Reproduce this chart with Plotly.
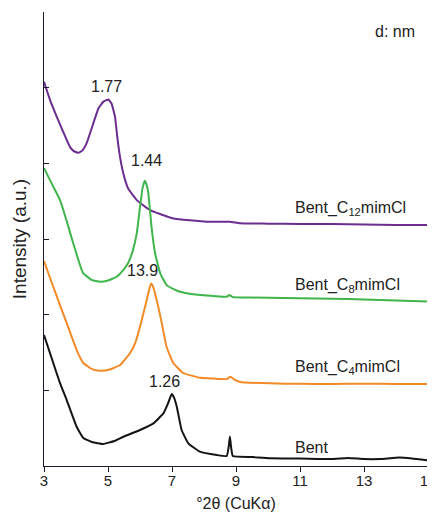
import plotly.graph_objects as go

# 2theta positions and intensities (a.u., offset traces)
x_c12 = [3.0, 3.19, 3.4, 3.6, 3.81, 3.92, 4.07, 4.2, 4.33, 4.54, 4.7, 4.85, 5.01, 5.11, 5.22, 5.29,
         5.375, 5.48, 5.63, 5.9, 6.31, 7.04, 8.08, 8.8, 9.125, 10, 11, 12, 13, 14, 15]
y_c12 = [5.077, 4.835, 4.614, 4.416, 4.218, 4.165, 4.139, 4.170, 4.263, 4.527, 4.725, 4.812, 4.844,
         4.791, 4.614, 4.350, 4.086, 3.867, 3.668, 3.514, 3.382, 3.272, 3.227, 3.228, 3.208, 3.203,
         3.197, 3.197, 3.190, 3.184, 3.184]

x_c8 = [3.0, 3.25, 3.5, 3.7, 3.91, 4.22, 4.5, 4.75, 5.0, 5.27, 5.5, 5.63, 5.78, 5.9, 6.0, 6.08, 6.15,
        6.2, 6.26, 6.36, 6.47, 6.63, 6.83, 7.05, 7.25, 7.5, 7.88, 8.3, 8.71, 8.8, 8.9, 9.5, 10.5, 11.5,
        12.5, 13.5, 14.5, 15]
y_c8 = [3.937, 3.725, 3.514, 3.250, 2.946, 2.550, 2.457, 2.435, 2.451, 2.501, 2.602, 2.682, 2.853,
        3.078, 3.421, 3.672, 3.771, 3.725, 3.606, 3.161, 2.814, 2.550, 2.391, 2.338, 2.302, 2.279,
        2.259, 2.246, 2.236, 2.259, 2.232, 2.226, 2.219, 2.213, 2.206, 2.193, 2.180, 2.173]

x_c4 = [3.0, 3.29, 3.5, 3.71, 4.02, 4.23, 4.5, 4.75, 5.0, 5.38, 5.69, 5.85, 6.0, 6.21, 6.34, 6.4,
        6.47, 6.58, 6.68, 6.83, 7.04, 7.35, 7.88, 8.3, 8.71, 8.83, 8.95, 9.13, 10.06, 11, 12, 13, 14, 15]
y_c4 = [2.708, 2.369, 2.127, 1.889, 1.532, 1.361, 1.281, 1.259, 1.268, 1.334, 1.493, 1.625, 1.840,
        2.193, 2.411, 2.378, 2.281, 2.087, 1.889, 1.576, 1.361, 1.229, 1.166, 1.156, 1.149, 1.180,
        1.140, 1.110, 1.092, 1.086, 1.084, 1.088, 1.084, 1.083]

x_bent = [3.0, 3.29, 3.5, 3.71, 4.02, 4.23, 4.5, 4.85, 5.2, 5.48, 6.0, 6.42, 6.73, 6.88, 6.99, 7.07,
          7.15, 7.30, 7.51, 7.875, 8.40, 8.71, 8.77, 8.81, 8.85, 8.9, 9.5, 10.06, 11, 12, 12.5, 13,
          13.5, 14.1, 14.5, 15]
y_bent = [1.731, 1.361, 1.096, 0.872, 0.519, 0.370, 0.317, 0.291, 0.330, 0.387, 0.476, 0.564, 0.696,
          0.832, 0.951, 0.898, 0.783, 0.476, 0.300, 0.189, 0.145, 0.132, 0.251, 0.390, 0.238, 0.132,
          0.119, 0.102, 0.099, 0.092, 0.106, 0.092, 0.092, 0.112, 0.099, 0.073]

series_names = ["Bent_C<sub>12</sub>mimCl", "Bent_C<sub>8</sub>mimCl", "Bent_C<sub>4</sub>mimCl", "Bent"]
series_colors = ["#6b2d90", "#3fb54b", "#f28a26", "#141414"]
series_x = [x_c12, x_c8, x_c4, x_bent]
series_y = [y_c12, y_c8, y_c4, y_bent]

# series label positions (x, y) and peak d-spacing annotations
label_pos = [(10.78, 3.40), (10.78, 2.38), (10.78, 1.30), (10.78, 0.25)]
peak_text = ["1.77", "1.44", "13.9", "1.26"]
peak_pos = [(4.96, 5.02), (6.21, 4.04), (6.07, 2.58), (6.77, 1.12)]

x_ticks = [3, 5, 7, 9, 11, 13, 15]

FONT = "Liberation Sans, Arial, Helvetica, sans-serif"
TXT = "#222"

fig = go.Figure()
for xs, ys, name, col in zip(series_x, series_y, series_names, series_colors):
    fig.add_trace(go.Scatter(x=xs, y=ys, mode="lines", name=name,
                             line=dict(color=col, width=2, shape="spline", smoothing=0.35),
                             showlegend=False))

for (lx, ly), name in zip(label_pos, series_names):
    fig.add_annotation(x=lx, y=ly, text=name, showarrow=False, xanchor="left", yanchor="middle",
                       font=dict(size=16, color=TXT, family=FONT))

for (px, py), t in zip(peak_pos, peak_text):
    fig.add_annotation(x=px, y=py, text=t, showarrow=False, xanchor="center", yanchor="middle",
                       font=dict(size=16, color=TXT, family=FONT))

fig.add_annotation(x=13.98, y=5.74, text="d: nm", showarrow=False, xanchor="center", yanchor="middle",
                   font=dict(size=16, color=TXT, family=FONT))

# the page body adds an 8px offset; size/margins compensate so the plot area lands where it should
fig.update_layout(
    width=427, height=506,
    margin=dict(l=36, r=7, t=4, b=48),
    plot_bgcolor="white", paper_bgcolor="white",
    font=dict(family=FONT, size=15, color=TXT),
    xaxis=dict(range=[3, 15], tickmode="array", tickvals=x_ticks, ticktext=[str(v) for v in x_ticks],
               showgrid=False, zeroline=False, showline=True, linecolor="#1a1a2a", linewidth=1,
               ticks="outside", ticklen=5, tickcolor="#1a1a2a", automargin=False,
               ticklabeloverflow="allow", ticklabelstandoff=-4,
               title=dict(text="°2θ (CuKα)", standoff=9, font=dict(size=16, family=FONT, color=TXT)),
               tickfont=dict(size=15, family=FONT, color=TXT)),
    yaxis=dict(range=[0, 6], dtick=1, showticklabels=False, showgrid=False, zeroline=False,
               showline=True, linecolor="#1a1a2a", linewidth=1, ticks="inside", ticklen=5,
               tickcolor="#1a1a2a", automargin=False,
               title=dict(text="Intensity (a.u.)", standoff=11, font=dict(size=19, family=FONT, color=TXT))),
)

fig.write_html("out.html")
